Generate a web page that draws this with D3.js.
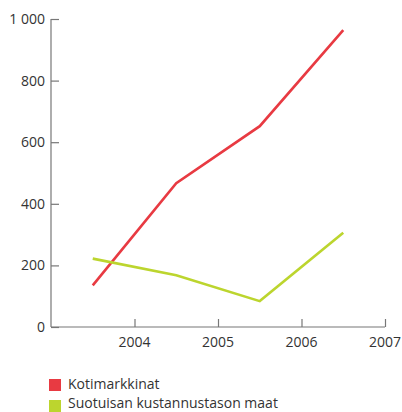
<!DOCTYPE html>
<html><head><meta charset="utf-8">
<script src="https://cdn.jsdelivr.net/npm/d3@7"></script>
<style>body{margin:0;background:#fff}svg{display:block}text{font-family:"Open Sans",sans-serif;fill:#333}</style>
</head><body>
<svg id="c" width="402" height="412"></svg>
<script>
const years = [2003.5, 2004.5, 2005.5, 2006.5];
const kotimarkkinat = [135, 467, 652, 964];
const suotuisan = [222, 168, 84, 306];
const yTicks = [0, 200, 400, 600, 800, 1000];
const xTicks = [2004, 2005, 2006, 2007];
const seriesNames = ["Kotimarkkinat", "Suotuisan kustannustason maat"];
const colors = ["#e83a42", "#bcd52e"];

const svg = d3.select("#c");
const x = d3.scaleLinear().domain([2003, 2007]).range([51, 385]);
const y = d3.scaleLinear().domain([0, 1000]).range([327, 19]);
const fmt = v => v >= 1000 ? d3.format(",")(v).replace(",", " ") : String(v);

const yAxis = svg.append("g").attr("transform", "translate(51,0)")
  .call(d3.axisRight(y).tickValues(yTicks).tickSize(8).tickFormat(""));
yAxis.select(".domain").attr("d", "M0,19V327");
const xAxis = svg.append("g").attr("transform", "translate(0,327)")
  .call(d3.axisTop(x).tickValues(xTicks).tickSize(8).tickFormat(""));
xAxis.select(".domain").attr("d", "M51,0H385");
svg.selectAll(".domain, .tick line").attr("stroke", "#777").attr("stroke-width", 1.2);

svg.append("g").selectAll("text").data(yTicks).join("text")
  .attr("x", 45).attr("y", d => y(d)).attr("dy", "0.35em")
  .attr("text-anchor", "end").attr("font-size", 14).text(fmt);
svg.append("g").selectAll("text").data(xTicks).join("text")
  .attr("x", d => x(d)).attr("y", 347).attr("text-anchor", "middle")
  .attr("font-size", 14).text(d => d);

const line = d3.line().x((d, i) => x(years[i])).y(d => y(d));
[kotimarkkinat, suotuisan].forEach((s, i) => {
  svg.append("path").datum(s).attr("d", line).attr("fill", "none")
    .attr("stroke", colors[i]).attr("stroke-width", 2.6);
});

const leg = svg.append("g");
seriesNames.forEach((n, i) => {
  leg.append("rect").attr("x", 49).attr("y", 379 + i * 21).attr("width", 12).attr("height", 12).attr("fill", colors[i]);
  leg.append("text").attr("x", 68).attr("y", 389 + i * 19).attr("font-size", 14).text(n);
});
</script>
</body></html>
